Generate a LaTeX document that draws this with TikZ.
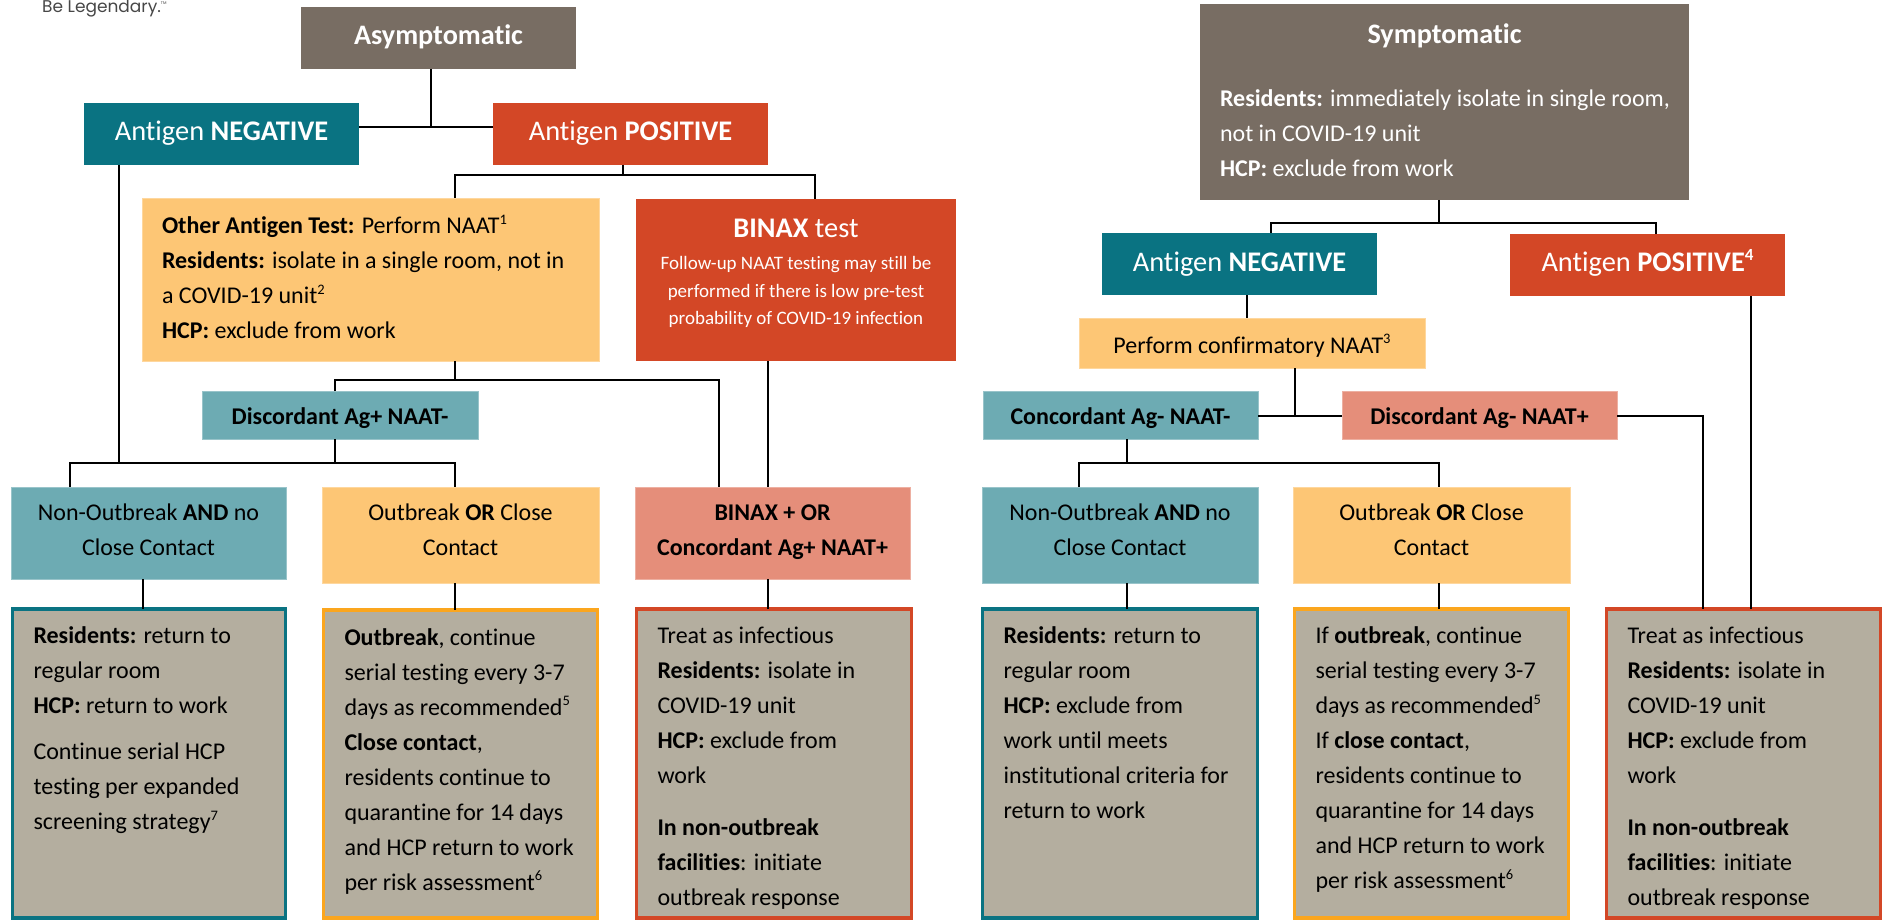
\documentclass[tikz,border=0pt]{standalone}
\usepackage{fontspec}
\setmainfont[Ligatures=NoCommon]{Carlito}
\newfontfamily\logofont{Poppins}
\usetikzlibrary{calc}
\definecolor{taupe}{HTML}{786D63}
\definecolor{tealdk}{HTML}{0A7382}
\definecolor{redor}{HTML}{D34726}
\definecolor{yellowbx}{HTML}{FDC675}
\definecolor{salmon}{HTML}{E58E7A}
\definecolor{teallt}{HTML}{6DABB3}
\definecolor{greybx}{HTML}{B4AE9F}
\definecolor{orangebd}{HTML}{FBA61E}
\tikzset{
  x=1pt,y=1pt,
  bxbase/.style={rectangle,inner sep=0pt,outer sep=0pt,anchor=north west},
  body/.style={font=\fontsize{24}{35}\selectfont,text=black},
  head/.style={bxbase,fill=taupe,text=white,font=\fontsize{28.2}{35}\selectfont},
  symhead/.style={bxbase,fill=taupe,text=white,font=\fontsize{24}{35}\selectfont},
  dkteal/.style={bxbase,fill=tealdk,text=white,font=\fontsize{28.4}{35}\selectfont},
  dkred/.style={bxbase,fill=redor,text=white,font=\fontsize{28.4}{35}\selectfont},
  binaxbox/.style={bxbase,fill=redor,text=white,font=\fontsize{19}{27.5}\selectfont},
  yellowbox/.style={bxbase,body,fill=yellowbx,draw=yellowbx!70!white,line width=.7pt},
  ltteal/.style={bxbase,body,fill=teallt,draw=teallt!70!white,line width=.7pt},
  salmonbox/.style={bxbase,body,fill=salmon,draw=salmon!70!white,line width=.7pt},
  finalteal/.style={bxbase,body,fill=greybx,draw=tealdk,line width=3.2pt},
  finalorange/.style={bxbase,body,fill=greybx,draw=orangebd,line width=3.2pt},
  finalred/.style={bxbase,body,fill=greybx,draw=redor,line width=3.2pt},
  conn/.style={draw=black,line width=2pt,line join=miter},
}
% name, style, x1, y1, x2, y2, first baseline, paragraph setup, text
\newcommand\bx[9]{%
  \pgfmathsetmacro\bxW{#5-#3}\pgfmathsetmacro\bxH{#6-#4}\pgfmathsetmacro\bxT{#7-#4}%
  \node[#2,minimum width=\bxW pt,minimum height=\bxH pt] (#1) at (#3,-#4)
    {\parbox[c][\bxH pt][t]{\bxW pt}{#8\vspace*{\dimexpr\bxT pt-\ht\strutbox\relax}\strut#9}};%
}
\newcommand\li{\leftskip=18pt\rightskip=-60pt\relax}
\newcommand\sq[2][14.5]{\raisebox{.38em}{\fontsize{#1}{#1}\selectfont #2}}
\begin{document}
\begin{tikzpicture}
\useasboundingbox (0,0) rectangle (1885,-920);
% ---------- logo text
\node[anchor=base west,inner sep=0pt,font=\logofont\fontsize{17}{18}\selectfont,text=black!72] (logo) at (42,-13) {Be Legendary.\raisebox{8pt}{\fontsize{4}{4}\selectfont TM}};
% ---------- left tree
\bx{asym}{head}{301}{7}{576}{69}{45}{\centering}{\textbf{Asymptomatic}}
\bx{negA}{dkteal}{84}{103}{359}{165}{141}{\centering}{Antigen \textbf{NEGATIVE}}
\bx{posA}{dkred}{493}{103}{768}{165}{141}{\centering}{Antigen \textbf{POSITIVE}}
\bx{other}{yellowbox}{142}{198}{599}{361}{233.5}{\leftskip=20pt\rightskip=-60pt\relax}{\textbf{Other Antigen Test:} Perform NAAT\sq{1}\\\textbf{Residents:} isolate in a single room, not in\\a COVID-19 unit\sq{2}\\\textbf{HCP:} exclude from work}
\bx{binax}{binaxbox}{636}{199}{956}{361}{237}{\centering}{{\fontsize{28.4}{27.5}\selectfont\textbf{BINAX} test}\\[5.5pt]Follow-up NAAT testing may still be\\performed if there is low pre-test\\probability of COVID-19 infection}
\bx{discA}{ltteal}{202}{391}{478}{439}{424}{\centering}{\textbf{Discordant Ag+ NAAT-}}
\bx{nonA}{ltteal}{11}{487}{286}{579}{520}{\centering}{Non-Outbreak \textbf{AND} no\\Close Contact}
\bx{outA}{yellowbox}{322}{487}{599}{583}{520}{\centering}{Outbreak \textbf{OR} Close\\Contact}
\bx{plusA}{salmonbox}{635}{487}{910}{579}{520}{\centering}{\textbf{BINAX + OR}\\\textbf{Concordant Ag+ NAAT+}}
\bx{finA}{finalteal}{12.5}{609}{285.5}{918}{643.5}{\li\leftskip=21pt}{\textbf{Residents:} return to\\regular room\\\textbf{HCP:} return to work\\[11pt]Continue serial HCP\\testing per expanded\\screening strategy\sq{7}}
\bx{finB}{finalorange}{323.5}{610}{597.5}{918}{645}{\li\leftskip=21pt}{\textbf{Outbreak}, continue\\serial testing every 3-7\\days as recommended\sq{5}\\\textbf{Close contact},\\residents continue to\\quarantine for 14 days\\and HCP return to work\\per risk assessment\sq{6}}
\bx{finC}{finalred}{636.5}{609}{911.5}{918}{643}{\li\leftskip=21pt}{Treat as infectious\\\textbf{Residents:} isolate in\\COVID-19 unit\\\textbf{HCP:} exclude from\\work\\[17pt]\textbf{In non-outbreak}\\\textbf{facilities}: initiate\\outbreak response}
% ---------- right tree
\bx{sym}{symhead}{1200}{4}{1689}{200}{44}{\leftskip=20pt\rightskip=-60pt\relax}{\hspace*{147.5pt}{\fontsize{28.2}{35}\selectfont\textbf{Symptomatic}}\\[28pt]\textbf{Residents:} immediately isolate in single room,\\not in COVID-19 unit\\\textbf{HCP:} exclude from work}
\bx{negS}{dkteal}{1102}{233}{1377}{295}{271}{\centering}{Antigen \textbf{NEGATIVE}}
\bx{posS}{dkred}{1510}{234}{1785}{296}{271}{\centering}{Antigen \textbf{POSITIVE\sq[17]{4}}}
\bx{perf}{yellowbox}{1079}{318}{1425}{368}{353}{\centering}{Perform confirmatory NAAT\sq{3}}
\bx{concS}{ltteal}{983}{391}{1258}{439}{424}{\centering}{\textbf{Concordant Ag- NAAT-}}
\bx{discS}{salmonbox}{1342}{391}{1617}{439}{424}{\centering}{\textbf{Discordant Ag- NAAT+}}
\bx{nonS}{ltteal}{982}{487}{1258}{583}{520}{\centering}{Non-Outbreak \textbf{AND} no\\Close Contact}
\bx{outS}{yellowbox}{1293}{487}{1570}{583}{520}{\centering}{Outbreak \textbf{OR} Close\\Contact}
\bx{finD}{finalteal}{982.5}{609}{1257.5}{918}{643.5}{\li\leftskip=21pt}{\textbf{Residents:} return to\\regular room\\\textbf{HCP:} exclude from\\work until meets\\institutional criteria for\\return to work}
\bx{finE}{finalorange}{1294.5}{609}{1568.5}{918}{643.5}{\li\leftskip=21pt}{If \textbf{outbreak}, continue\\serial testing every 3-7\\days as recommended\sq{5}\\If \textbf{close contact},\\residents continue to\\quarantine for 14 days\\and HCP return to work\\per risk assessment\sq{6}}
\bx{finF}{finalred}{1606.5}{609}{1880.5}{918}{643}{\li\leftskip=21pt}{Treat as infectious\\\textbf{Residents:} isolate in\\COVID-19 unit\\\textbf{HCP:} exclude from\\work\\[17pt]\textbf{In non-outbreak}\\\textbf{facilities}: initiate\\outbreak response}
% ---------- junctions
\coordinate (jA) at (431,-127);
\coordinate (jB) at (623,-175);
\coordinate (jBl) at (455,-175);
\coordinate (jBr) at (815,-175);
\coordinate (jC) at (455,-380);
\coordinate (jCl) at (335,-380);
\coordinate (jCr) at (719,-380);
\coordinate (jD) at (119,-463);
\coordinate (jDl) at (70,-463);
\coordinate (jDm) at (335,-463);
\coordinate (jDr) at (455,-463);
\coordinate (kA) at (1439,-223);
\coordinate (kAl) at (1271,-223);
\coordinate (kAr) at (1656,-223);
\coordinate (kB) at (1295,-415.5);
\coordinate (kC) at (1702.5,-415.5);
\coordinate (kD) at (1127,-463);
\coordinate (kDl) at (1079,-463);
\coordinate (kDr) at (1439,-463);
\coordinate (xB1) at (768,-361);
\coordinate (kE) at (1247,-300);
\coordinate (kF) at (1751,-300);
\coordinate (xA) at (143,-600);
\coordinate (xC) at (455,-600);
\coordinate (xE) at (1127,-600);
\coordinate (xF) at (1439,-600);
% ---------- connectors left
\begin{scope}[conn]
\draw (asym.south -| jA) -- (jA);
\draw (negA.east |- jA) -- (posA.west |- jA);
\draw (posA.south -| jB) -- (jB);
\draw (other.north -| jBl) |- (jBr) -- (binax.north -| jBr);
\draw (other.south -| jC) -- (jC);
\draw (discA.north -| jCl) |- (jCr) -- (plusA.north -| jCr);
\draw (negA.south -| jD) -- (jD);
\draw (discA.south -| jDm) -- (jDm);
\draw (nonA.north -| jDl) |- (jDr) -- (outA.north -| jDr);
\draw (binax.south -| xB1) -- (plusA.north -| xB1);
\draw (nonA.south -| xA) -- (finA.north -| xA);
\draw (outA.south -| xC) -- (finB.north -| xC);
\draw (plusA.south -| xB1) -- (finC.north -| xB1);
% ---------- connectors right
\draw (sym.south -| kA) -- (kA);
\draw (negS.north -| kAl) |- (kAr) -- (posS.north -| kAr);
\draw (negS.south -| kE) -- (perf.north -| kE);
\draw (perf.south -| kB) -- (kB);
\draw (concS.east |- kB) -- (discS.west |- kB);
\draw (discS.east |- kC) -- (kC) -- (finF.north -| kC);
\draw (posS.south -| kF) -- (finF.north -| kF);
\draw (concS.south -| kD) -- (kD);
\draw (nonS.north -| kDl) |- (kDr) -- (outS.north -| kDr);
\draw (nonS.south -| xE) -- (finD.north -| xE);
\draw (outS.south -| xF) -- (finE.north -| xF);
\end{scope}
\end{tikzpicture}
\end{document}
